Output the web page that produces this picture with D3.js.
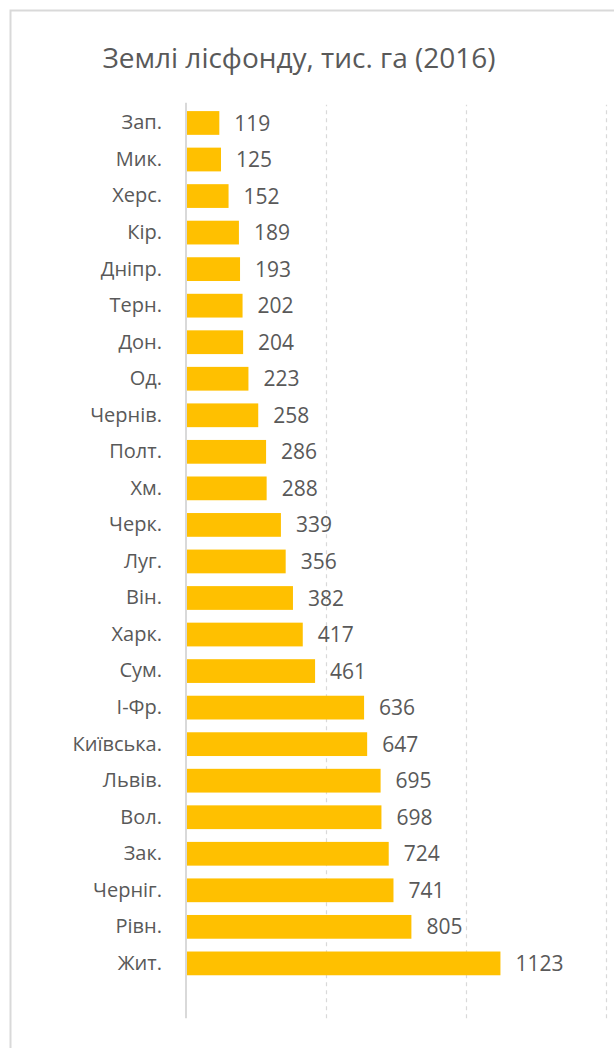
<!DOCTYPE html>
<html>
<head>
<meta charset="utf-8">
<script src="https://cdn.jsdelivr.net/npm/d3@7"></script>
<style>
  body { margin: 0; background: #fff; }
  svg { display: block; }
</style>
</head>
<body>
<div id="chart"></div>
<script>
// regions (top to bottom) and forest fund land, thousand ha
const regions = ["Зап.", "Мик.", "Херс.", "Кір.", "Дніпр.", "Терн.", "Дон.", "Од.", "Чернів.", "Полт.",
  "Хм.", "Черк.", "Луг.", "Він.", "Харк.", "Сум.", "І-Фр.", "Київська.", "Львів.", "Вол.",
  "Зак.", "Черніг.", "Рівн.", "Жит."];
const values = [119, 125, 152, 189, 193, 202, 204, 223, 258, 286,
  288, 339, 356, 382, 417, 461, 636, 647, 695, 698,
  724, 741, 805, 1123];
const gridTicks = [0, 500, 1000, 1500];
const title = "Землі лісфонду, тис. га (2016)";

const size = {width: 614, height: 1048};
const plot = {left: 186, right: 606, top: 104.7, bottom: 1018.2};
const textColor = "#595959";
const barColor = "#FFC000";
const fontFamily = "'Open Sans', 'Noto Sans', sans-serif";

const svg = d3.select("#chart").append("svg")
  .attr("width", size.width)
  .attr("height", size.height);

// chart frame (runs off the right/bottom of the picture)
svg.append("rect")
  .attr("x", 10.5).attr("y", 10.5)
  .attr("width", 700).attr("height", 1100)
  .attr("fill", "#fff")
  .attr("stroke", "#d9d9d9")
  .attr("stroke-width", 2);

svg.append("text")
  .attr("x", 299)
  .attr("y", 68)
  .attr("text-anchor", "middle")
  .style("font-family", fontFamily)
  .style("font-size", "28px")
  .style("fill", textColor)
  .text(title);

const xScale = d3.scaleLinear().domain([0, 1500]).range([plot.left, plot.right]);
// one empty slot after the last category, as in the original
const slots = regions.map((d, i) => i).concat([regions.length]);
const yScale = d3.scaleBand()
  .domain(slots)
  .range([plot.top, plot.bottom])
  .paddingInner(0.35)
  .paddingOuter(0.175);

// dashed gridlines
const gridG = svg.append("g")
  .attr("transform", "translate(0," + plot.bottom + ")")
  .call(d3.axisBottom(xScale).tickValues(gridTicks.slice(1))
    .tickSize(-(plot.bottom - plot.top)).tickFormat(""));
gridG.select(".domain").remove();
gridG.selectAll(".tick line")
  .attr("stroke", "#d9d9d9")
  .attr("stroke-width", 1.2)
  .attr("stroke-dasharray", "4,4");

// bars
svg.selectAll(".bar")
  .data(values)
  .join("rect")
  .attr("class", "bar")
  .attr("x", xScale(0))
  .attr("y", (d, i) => yScale(i))
  .attr("width", d => xScale(d) - xScale(0))
  .attr("height", yScale.bandwidth())
  .attr("fill", barColor);

// category axis
const yAxisG = svg.append("g")
  .attr("transform", "translate(" + plot.left + ",0)")
  .call(d3.axisLeft(yScale).tickSize(0).tickPadding(24)
    .tickFormat(i => regions[i] || ""));
yAxisG.select(".domain").remove();
yAxisG.selectAll("text")
  .style("font-family", fontFamily)
  .style("font-size", "20px")
  .style("fill", textColor);

svg.append("line")
  .attr("x1", plot.left).attr("x2", plot.left)
  .attr("y1", plot.top - 2).attr("y2", plot.bottom)
  .attr("stroke", "#d9d9d9")
  .attr("stroke-width", 2);

// value labels
svg.selectAll(".valueLabel")
  .data(values)
  .join("text")
  .attr("class", "valueLabel")
  .attr("x", d => xScale(d) + 15)
  .attr("y", (d, i) => yScale(i) + yScale.bandwidth() / 2)
  .attr("dy", "0.36em")
  .style("font-family", fontFamily)
  .style("font-size", "21px")
  .style("fill", textColor)
  .text(d => d);
</script>
</body>
</html>
